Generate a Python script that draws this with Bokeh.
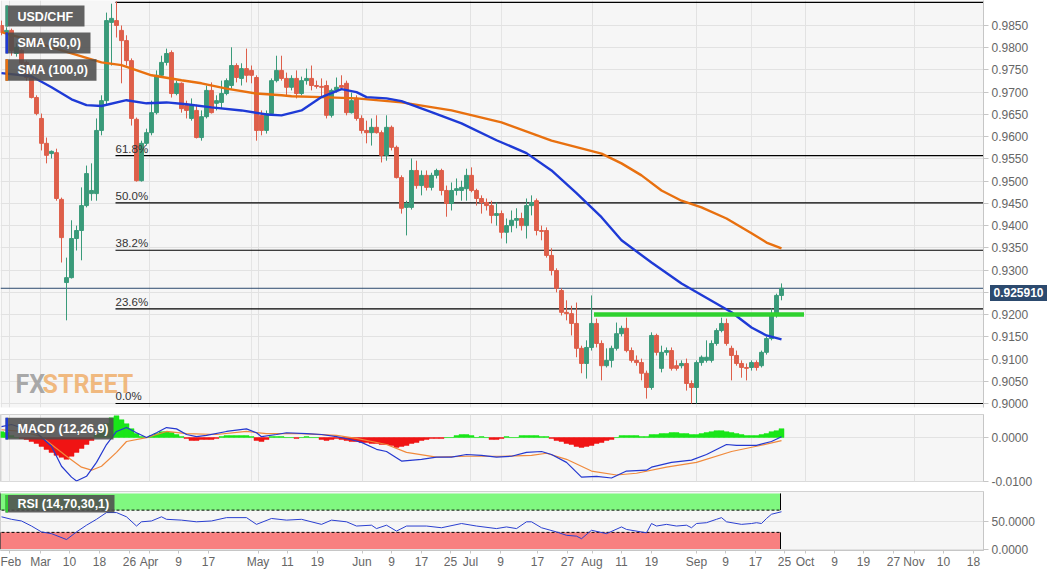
from bokeh.plotting import figure
from bokeh.layouts import column
from bokeh.models import (Range1d, FixedTicker, CustomJSTickFormatter, NumeralTickFormatter,
                          BoxAnnotation, Label, Grid, ColumnDataSource, Div)
from bokeh.embed import file_html
from bokeh.resources import INLINE

# ---------------- data (daily USD/CHF candles) ----------------
opens = [
    0.9850, 0.9834, 0.9839, 0.9787, 0.9794, 0.9767, 0.9733, 0.9688, 0.9641, 0.9585,
    0.9562, 0.9564, 0.9459, 0.9272, 0.9283, 0.9371, 0.9389, 0.9445, 0.9472, 0.9472,
    0.9614, 0.9681, 0.9857, 0.9861, 0.9839, 0.9816, 0.9771, 0.9639, 0.9501, 0.9585,
    0.9609, 0.9654, 0.9738, 0.9767, 0.9789, 0.9697, 0.9720, 0.9670, 0.9641, 0.9659,
    0.9598, 0.9645, 0.9704, 0.9675, 0.9677, 0.9697, 0.9715, 0.9760, 0.9731, 0.9753,
    0.9749, 0.9733, 0.9648, 0.9614, 0.9652, 0.9726, 0.9749, 0.9731, 0.9711, 0.9731,
    0.9697, 0.9726, 0.9731, 0.9715, 0.9713, 0.9715, 0.9648, 0.9704, 0.9715, 0.9720,
    0.9654, 0.9686, 0.9641, 0.9614, 0.9609, 0.9621, 0.9609, 0.9558, 0.9621, 0.9576,
    0.9508, 0.9441, 0.9441, 0.9524, 0.9490, 0.9513, 0.9486, 0.9513, 0.9524, 0.9479,
    0.9450, 0.9479, 0.9479, 0.9483, 0.9513, 0.9479, 0.9461, 0.9452, 0.9445, 0.9423,
    0.9427, 0.9385, 0.9400, 0.9412, 0.9416, 0.9400, 0.9445, 0.9456, 0.9389, 0.9389,
    0.9333, 0.9299, 0.9254, 0.9205, 0.9202, 0.9180, 0.9124, 0.9090, 0.9126, 0.9180,
    0.9135, 0.9085, 0.9097, 0.9124, 0.9157, 0.9169, 0.9119, 0.9097, 0.9092, 0.9068,
    0.9036, 0.9153, 0.9079, 0.9115, 0.9119, 0.9085, 0.9085, 0.9090, 0.9045, 0.9036,
    0.9092, 0.9097, 0.9097, 0.9135, 0.9164, 0.9180, 0.9124, 0.9108, 0.9090, 0.9081,
    0.9081, 0.9092, 0.9085, 0.9115, 0.9146, 0.9202, 0.9243]
highs = [
    0.9861, 0.9846, 0.9843, 0.9810, 0.9798, 0.9771, 0.9738, 0.9693, 0.9652, 0.9598,
    0.9569, 0.9573, 0.9463, 0.9328, 0.9412, 0.9400, 0.9486, 0.9535, 0.9540, 0.9641,
    0.9693, 0.9879, 0.9899, 0.9904, 0.9850, 0.9828, 0.9776, 0.9643, 0.9591, 0.9618,
    0.9681, 0.9749, 0.9782, 0.9798, 0.9794, 0.9726, 0.9722, 0.9681, 0.9686, 0.9672,
    0.9659, 0.9715, 0.9722, 0.9693, 0.9726, 0.9731, 0.9801, 0.9765, 0.9765, 0.9798,
    0.9760, 0.9738, 0.9659, 0.9659, 0.9731, 0.9782, 0.9782, 0.9744, 0.9738, 0.9749,
    0.9735, 0.9753, 0.9760, 0.9726, 0.9731, 0.9726, 0.9708, 0.9733, 0.9738, 0.9726,
    0.9699, 0.9693, 0.9648, 0.9636, 0.9641, 0.9648, 0.9614, 0.9648, 0.9625, 0.9580,
    0.9513, 0.9456, 0.9551, 0.9546, 0.9524, 0.9524, 0.9519, 0.9528, 0.9528, 0.9490,
    0.9497, 0.9506, 0.9501, 0.9528, 0.9531, 0.9483, 0.9468, 0.9461, 0.9456, 0.9452,
    0.9434, 0.9416, 0.9434, 0.9439, 0.9429, 0.9461, 0.9468, 0.9461, 0.9400, 0.9396,
    0.9349, 0.9304, 0.9259, 0.9232, 0.9220, 0.9227, 0.9130, 0.9142, 0.9243, 0.9191,
    0.9142, 0.9124, 0.9130, 0.9182, 0.9175, 0.9193, 0.9126, 0.9108, 0.9101, 0.9074,
    0.9160, 0.9157, 0.9130, 0.9126, 0.9126, 0.9097, 0.9097, 0.9101, 0.9052, 0.9097,
    0.9108, 0.9142, 0.9142, 0.9169, 0.9193, 0.9191, 0.9130, 0.9119, 0.9097, 0.9090,
    0.9097, 0.9097, 0.9119, 0.9151, 0.9214, 0.9247, 0.9270]
lows = [
    0.9828, 0.9825, 0.9782, 0.9780, 0.9758, 0.9726, 0.9686, 0.9648, 0.9569, 0.9540,
    0.9551, 0.9456, 0.9317, 0.9187, 0.9281, 0.9344, 0.9322, 0.9441, 0.9456, 0.9456,
    0.9603, 0.9670, 0.9760, 0.9823, 0.9720, 0.9760, 0.9625, 0.9499, 0.9499, 0.9580,
    0.9603, 0.9650, 0.9733, 0.9760, 0.9688, 0.9693, 0.9654, 0.9641, 0.9636, 0.9596,
    0.9591, 0.9641, 0.9652, 0.9659, 0.9663, 0.9693, 0.9708, 0.9722, 0.9715, 0.9722,
    0.9720, 0.9591, 0.9603, 0.9607, 0.9648, 0.9722, 0.9726, 0.9693, 0.9704, 0.9686,
    0.9693, 0.9717, 0.9704, 0.9708, 0.9688, 0.9641, 0.9643, 0.9699, 0.9708, 0.9648,
    0.9652, 0.9636, 0.9607, 0.9585, 0.9580, 0.9607, 0.9542, 0.9546, 0.9569, 0.9506,
    0.9427, 0.9378, 0.9436, 0.9483, 0.9468, 0.9479, 0.9479, 0.9506, 0.9468, 0.9420,
    0.9434, 0.9468, 0.9456, 0.9456, 0.9475, 0.9445, 0.9427, 0.9434, 0.9405, 0.9400,
    0.9371, 0.9360, 0.9385, 0.9394, 0.9389, 0.9371, 0.9423, 0.9378, 0.9367, 0.9328,
    0.9288, 0.9250, 0.9198, 0.9187, 0.9153, 0.9104, 0.9068, 0.9056, 0.9119, 0.9126,
    0.9052, 0.9081, 0.9081, 0.9119, 0.9151, 0.9115, 0.9092, 0.9085, 0.9052, 0.9011,
    0.9031, 0.9108, 0.9070, 0.9108, 0.9074, 0.9074, 0.9079, 0.9029, 0.9000, 0.9000,
    0.9085, 0.9092, 0.9092, 0.9130, 0.9160, 0.9130, 0.9052, 0.9085, 0.9058, 0.9052,
    0.9074, 0.9074, 0.9081, 0.9110, 0.9142, 0.9193, 0.9232]
closes = [
    0.9834, 0.9839, 0.9794, 0.9801, 0.9765, 0.9733, 0.9688, 0.9652, 0.9585, 0.9558,
    0.9567, 0.9461, 0.9373, 0.9283, 0.9371, 0.9389, 0.9445, 0.9517, 0.9479, 0.9614,
    0.9681, 0.9861, 0.9866, 0.9850, 0.9816, 0.9771, 0.9641, 0.9501, 0.9585, 0.9609,
    0.9654, 0.9738, 0.9767, 0.9787, 0.9697, 0.9720, 0.9663, 0.9659, 0.9670, 0.9598,
    0.9645, 0.9704, 0.9654, 0.9681, 0.9697, 0.9726, 0.9760, 0.9733, 0.9753, 0.9738,
    0.9738, 0.9614, 0.9614, 0.9652, 0.9726, 0.9749, 0.9731, 0.9711, 0.9731, 0.9697,
    0.9726, 0.9731, 0.9715, 0.9713, 0.9711, 0.9648, 0.9704, 0.9711, 0.9711, 0.9654,
    0.9681, 0.9641, 0.9614, 0.9609, 0.9621, 0.9609, 0.9558, 0.9621, 0.9576, 0.9508,
    0.9439, 0.9450, 0.9524, 0.9490, 0.9513, 0.9486, 0.9513, 0.9524, 0.9479, 0.9450,
    0.9479, 0.9483, 0.9486, 0.9513, 0.9479, 0.9461, 0.9452, 0.9445, 0.9423, 0.9427,
    0.9385, 0.9400, 0.9412, 0.9416, 0.9400, 0.9445, 0.9452, 0.9389, 0.9387, 0.9333,
    0.9299, 0.9259, 0.9205, 0.9202, 0.9180, 0.9124, 0.9090, 0.9126, 0.9180, 0.9135,
    0.9085, 0.9097, 0.9124, 0.9157, 0.9169, 0.9119, 0.9097, 0.9092, 0.9068, 0.9036,
    0.9153, 0.9115, 0.9115, 0.9119, 0.9079, 0.9079, 0.9090, 0.9045, 0.9036, 0.9092,
    0.9104, 0.9104, 0.9135, 0.9164, 0.9180, 0.9135, 0.9108, 0.9090, 0.9081, 0.9079,
    0.9092, 0.9081, 0.9115, 0.9146, 0.9202, 0.9243, 0.92591]

sma50_idx = [0, 6, 10, 14, 17, 20, 25, 29, 33, 37, 42, 48, 53, 56, 60, 64, 68, 71, 73, 77,
             80, 86, 92, 99, 105, 110, 115, 120, 124, 130, 136, 140, 146, 150, 153, 156]
sma50_val = [0.9743, 0.9736, 0.9711, 0.9684, 0.9671, 0.9669, 0.9682, 0.9675, 0.9677, 0.9673,
             0.9666, 0.9659, 0.9650, 0.9648, 0.9659, 0.9689, 0.9707, 0.9700, 0.9689, 0.9686,
             0.9680, 0.9655, 0.9630, 0.9592, 0.9563, 0.9524, 0.9473, 0.9419, 0.9367, 0.9317,
             0.9270, 0.9244, 0.9205, 0.9171, 0.9153, 0.9144]
sma100_idx = [0, 4, 10, 20, 24, 30, 36, 40, 45, 51, 56, 58, 64, 71, 80, 90, 100, 110,
              120, 124, 128, 132, 136, 140, 145, 150, 153, 156]
sma100_val = [0.9835, 0.9822, 0.9801, 0.9767, 0.9761, 0.9738, 0.9727, 0.9720, 0.9708, 0.9697,
              0.9693, 0.9691, 0.9689, 0.9686, 0.9677, 0.9659, 0.9632, 0.9591, 0.9562, 0.9540,
              0.9513, 0.9479, 0.9456, 0.9441, 0.9416, 0.9383, 0.9362, 0.9349]

fib_low = 0.9000
fib_high = 0.9902
fib_ratios = [0.0, 0.236, 0.382, 0.5, 0.618, 1.0]
fib_anchor = 22.8          # bar of the swing high the retracement is drawn from
resistance_level = 0.9200
resistance_from = 118.5
resistance_to = 160.5
last_price = 0.92591
last_price_text = "0.925910"

macd_idx = [0, 2, 7, 10, 12, 14, 15, 17, 19, 21, 23, 25, 27, 29, 31, 33, 35, 37, 39, 41,
            45, 49, 51, 52, 55, 57, 61, 64, 67, 70, 72, 75, 77, 80, 84, 87, 90, 93, 96, 99,
            102, 105, 108, 110, 113, 116, 119, 122, 125, 129, 130, 134, 138, 141, 145, 147,
            151, 154, 156]
macd_val = [0.0025, 0.0030, 0.0011, -0.0020, -0.0066, -0.0091, -0.0100, -0.0089, -0.0057, -0.0016,
            0.0014, 0.0023, 0.0011, 0.0000, 0.0011, 0.0023, 0.0020, 0.0007, 0.0002, 0.0005,
            0.0014, 0.0020, 0.0011, 0.0002, 0.0007, 0.0011, 0.0009, 0.0007, 0.0002, -0.0005,
            -0.0011, -0.0027, -0.0032, -0.0054, -0.0050, -0.0045, -0.0045, -0.0039, -0.0041, -0.0045,
            -0.0043, -0.0034, -0.0032, -0.0039, -0.0057, -0.0091, -0.0089, -0.0093, -0.0077, -0.0075,
            -0.0068, -0.0057, -0.0052, -0.0039, -0.0016, -0.0018, -0.0018, -0.0009, 0.0002]
signal_idx = [0, 4, 8, 13, 16, 18, 20, 23, 25, 29, 33, 37, 43, 49, 53, 60, 67, 71, 77, 81,
              87, 93, 100, 106, 109, 113, 118, 123, 127, 133, 139, 146, 151, 156]
signal_val = [0.0018, 0.0014, 0.0002, -0.0043, -0.0068, -0.0075, -0.0066, -0.0034, -0.0009, 0.0000,
              0.0014, 0.0009, 0.0007, 0.0014, 0.0009, 0.0009, 0.0005, -0.0002, -0.0016, -0.0034,
              -0.0045, -0.0043, -0.0043, -0.0041, -0.0036, -0.0050, -0.0077, -0.0086, -0.0082, -0.0068,
              -0.0057, -0.0032, -0.0020, -0.0007]
macd_hist = [
    0.00136, 0.00114, 0.00045, 0.0, -0.00023, -0.00045, -0.00091, -0.00136, -0.00204, -0.00272,
    -0.00341, -0.00409, -0.00454, -0.00499, -0.00431, -0.00341, -0.0025, -0.00159, -0.00068, 0.00068,
    0.00182, 0.00318, 0.00454, 0.00499, 0.00409, 0.00318, 0.00204, 0.00091, 0.00023, 0.0,
    0.00045, 0.00091, 0.00136, 0.00136, 0.00114, 0.00068, 0.00023, -0.00023, -0.00068, -0.00068,
    -0.00045, -0.00045, -0.00045, -0.00023, 0.00023, 0.00045, 0.00045, 0.00045, 0.00045, 0.00045,
    0.00023, -0.00068, -0.00091, -0.00045, 0.00023, 0.00023, 0.00023, 0.0, 0.0, -0.00023,
    0.0, 0.00023, 0.0, 0.0, -0.00045, -0.00068, -0.00045, -0.00023, -0.00045, -0.00068,
    -0.00091, -0.00091, -0.00114, -0.00114, -0.00136, -0.00136, -0.00159, -0.00159, -0.00182, -0.00227,
    -0.00204, -0.00182, -0.00136, -0.00114, -0.00068, -0.00045, -0.00023, -0.00023, -0.00023, 0.0,
    0.0, 0.00045, 0.00068, 0.00068, 0.00045, 0.0, 0.00023, 0.0, -0.00045, -0.00045,
    -0.00023, 0.00023, 0.0, 0.0, 0.00045, 0.00045, 0.00045, 0.00045, 0.00023, 0.00023,
    -0.00023, -0.00068, -0.00091, -0.00136, -0.00159, -0.00204, -0.00227, -0.00204, -0.00182, -0.00136,
    -0.00114, -0.00068, -0.00045, 0.0, 0.00045, 0.00045, 0.00045, 0.00045, 0.00023, 0.00023,
    0.00068, 0.00068, 0.00091, 0.00091, 0.00114, 0.00114, 0.00091, 0.00091, 0.00068, 0.00068,
    0.00091, 0.00114, 0.00136, 0.00159, 0.00159, 0.00136, 0.00114, 0.00091, 0.00068, 0.00045,
    0.00045, 0.00045, 0.00068, 0.00091, 0.00136, 0.00159, 0.00204]

rsi_idx = [0, 2, 4, 6, 8, 10, 13, 15, 17, 19, 21, 23, 25, 27, 28, 30, 32, 33, 36, 39,
           42, 45, 49, 51, 54, 57, 60, 64, 66, 69, 71, 74, 75, 77, 79, 81, 85, 88, 92, 95,
           99, 101, 103, 105, 106, 108, 111, 113, 115, 116, 118, 121, 124, 125, 129, 130, 131, 133, 135, 137,
           138, 139, 141, 143, 144, 145, 148, 150, 151, 152, 153, 154, 156]
rsi_val = [58, 53.5, 50.5, 41.4, 30.8, 27.7, 17.1, 30.8, 42.9, 53.5,
           65.6, 65.6, 58, 41.4, 49, 50.5, 58, 53.5, 52, 49,
           50.5, 56.5, 56.5, 44.4, 55, 52, 53.5, 44.4, 52, 49,
           41.4, 42.9, 36.8, 42.9, 32.3, 41.4, 41.4, 38.3, 45.9, 41.4,
           36.8, 39.8, 36.8, 49, 49, 38.3, 30.8, 24.7, 23.2, 18.6,
           33.8, 27.7, 39.8, 35.3, 29.2, 45.9, 41.4, 44.4, 41.4, 42.9,
           38.3, 45.9, 47.4, 53.5, 56.5, 49, 44.4, 45.9, 47.4, 45.9,
           55, 62.6, 67.1]
rsi_overbought = 70
rsi_oversold = 30

xtick_pos = [1.6, 7.8, 13.6, 19.6, 25.6, 29.5, 35.4, 41.4, 51.3, 57.2, 63.2, 72.1, 78.0, 84.0,
             89.8, 93.8, 99.8, 107.2, 113.2, 118.1, 124.0, 130.0, 139.0, 144.8, 150.8, 156.6,
             160.7, 166.6, 172.4, 178.4, 182.5, 188.4, 194.4]
xtick_labels = ["Feb", "Mar", "10", "18", "26", "Apr", "9", "17", "May", "11", "19", "Jun", "9",
                "17", "25", "Jul", "9", "17", "27", "Aug", "11", "19", "Sep", "9", "17", "25",
                "Oct", "9", "19", "27", "Nov", "10", "18"]
price_ticks = [0.9000, 0.9050, 0.9100, 0.9150, 0.9200, 0.9250, 0.9300, 0.9350, 0.9400,
               0.9450, 0.9500, 0.9550, 0.9600, 0.9650, 0.9700, 0.9750, 0.9800, 0.9850]
macd_ticks = [-0.0100, 0.0000]
rsi_ticks = [0, 50]

# ---------------- styling ----------------
FONT = "Liberation Sans"
GREEN = "#3a9b7a"
RED = "#de5f4a"
FRAME_BG = "#f6f6f6"
GRID = "#e2e2e2"
AXIS = "#c6c6c6"
TICK_TXT = "#666666"
BOX = "#4d4d4d"
NAVY = "#2c4a6e"

X0, X1 = -0.2, 196.4          # bar window of the plot areas (983 px, 5 px per bar)
PRICE_LO, PRICE_HI = 0.89910, 0.99062

bars = list(range(len(closes)))
month_ticks = [p for p, l in zip(xtick_pos, xtick_labels) if not l.isdigit()]
xr = Range1d(X0, X1)


def style(p, yticks, fmt):
    p.background_fill_color = FRAME_BG
    p.border_fill_color = "white"
    p.outline_line_color = "#d2d2d2"
    ax = p.yaxis[0]
    ax.ticker = FixedTicker(ticks=yticks)
    ax.formatter = NumeralTickFormatter(format=fmt)
    ax.major_label_text_font = FONT
    ax.major_label_text_font_size = "12px"
    ax.major_label_text_color = TICK_TXT
    ax.axis_line_color = AXIS
    ax.major_tick_line_color = AXIS
    ax.major_tick_out = 5
    ax.major_tick_in = 0
    ax.minor_tick_line_color = None
    ax.major_label_standoff = 3
    p.ygrid.ticker = FixedTicker(ticks=yticks)
    p.ygrid.grid_line_color = GRID
    p.add_layout(Grid(dimension=0, ticker=FixedTicker(ticks=month_ticks), grid_line_color=GRID))


def tag(p, left, right, bottom, top, tx, ty, text, marker):
    p.add_layout(BoxAnnotation(left=left, right=right, bottom=bottom, top=top,
                               fill_color=BOX, fill_alpha=0.88, line_alpha=0))
    p.add_layout(BoxAnnotation(left=left, right=left + 0.5, bottom=bottom, top=top,
                               fill_color=marker, fill_alpha=1.0, line_alpha=0))
    p.add_layout(Label(x=tx, y=ty, text=text, text_font=FONT, text_font_size="12.5px",
                       text_font_style="bold", text_color="white", text_baseline="middle"))


common = dict(x_range=xr, output_backend="svg", toolbar_location=None, y_axis_location="right",
              min_border_left=0, min_border_right=61, width=1044)

# ---------------- main price panel ----------------
p1 = figure(height=410, y_range=Range1d(PRICE_LO, PRICE_HI), x_axis_location=None,
            min_border_top=0, min_border_bottom=3, **common)
style(p1, price_ticks, "0.0000")
p1.outline_line_color = None

for r in fib_ratios:
    lvl = fib_low + r * (fib_high - fib_low)
    p1.segment(x0=fib_anchor, y0=lvl, x1=X1, y1=lvl, line_color="black", line_width=1.2)
    if r < 1.0:
        p1.add_layout(Label(x=fib_anchor, y=lvl, y_offset=1, text=f"{r * 100:.1f}%",
                            text_font=FONT, text_font_size="11.5px", text_color="#333333",
                            text_baseline="bottom"))

p1.segment(x0=X0, y0=last_price, x1=X1, y1=last_price, line_color=NAVY, line_width=1)

colors = [GREEN if c >= o else RED for o, c in zip(opens, closes)]
src = ColumnDataSource(dict(x=bars, high=highs, low=lows, color=colors,
                            top=[max(o, c) for o, c in zip(opens, closes)],
                            bottom=[min(o, c) for o, c in zip(opens, closes)]))
p1.segment(x0="x", y0="high", x1="x", y1="low", line_color="color", line_width=1, source=src)
p1.vbar(x="x", top="top", bottom="bottom", width=0.78, fill_color="color",
        line_color="color", line_width=1, source=src)

p1.line(sma100_idx, sma100_val, line_color="#e8700f", line_width=2.4)
p1.line(sma50_idx, sma50_val, line_color="#1e3ad6", line_width=2.4)
p1.segment(x0=resistance_from, y0=resistance_level, x1=resistance_to, y1=resistance_level,
           line_color="#2fd12f", line_width=4.5)

p1.add_layout(Label(x=2.8, y=0.9043, text="FX", text_font="Roboto",
                    text_font_size="25px", text_font_style="bold", text_color="#9a9a9a",
                    text_alpha=0.85, text_baseline="alphabetic"))
p1.add_layout(Label(x=8.2, y=0.9043, text="STREET", text_font="Roboto",
                    text_font_size="25px", text_font_style="bold", text_color="#efae6a",
                    text_alpha=0.85, text_baseline="alphabetic"))

tag(p1, 0.8, 16.6, 0.9848, 0.9895, 3.2, 0.9870, "USD/CHF", GREEN)
tag(p1, 0.8, 17.8, 0.9787, 0.9834, 3.2, 0.9810, "SMA (50,0)", "#1e3ad6")
tag(p1, 0.8, 19.0, 0.9726, 0.9774, 3.2, 0.9749, "SMA (100,0)", "#e8700f")

# last-price tag sitting on the price axis (an overlay placed next to the axis)
price_tag = Div(text=last_price_text, width=57, height=16,
                styles={"position": "absolute", "left": "985px", "top": "280px",
                        "background-color": NAVY, "color": "white",
                        "font-family": FONT, "font-weight": "bold", "font-size": "12px",
                        "line-height": "16px", "text-align": "center", "z-index": "10"})

# ---------------- MACD panel ----------------
p2 = figure(height=78, y_range=Range1d(-0.0101, 0.0053), x_axis_location=None,
            min_border_top=4, min_border_bottom=7, **common)
style(p2, macd_ticks, "0.0000")
hsrc = ColumnDataSource(dict(x=bars, top=macd_hist,
                             color=["#19e619" if h >= 0 else "#f01414" for h in macd_hist]))
p2.vbar(x="x", top="top", bottom=0, width=1.0, fill_color="color", line_color="color",
        line_width=0.5, source=hsrc)
p2.line(signal_idx, signal_val, line_color="#f08a3c", line_width=1.2)
p2.line(macd_idx, macd_val, line_color="#2438d0", line_width=1.2)
tag(p2, 0.8, 22.4, -0.00045, 0.00454, 3.2, 0.00204, "MACD (12,26,9)", "#1e3ad6")

# ---------------- RSI panel ----------------
p3 = figure(height=83, y_range=Range1d(-2.6, 103.5), min_border_top=3, min_border_bottom=0,
            **common)
style(p3, rsi_ticks, "0.0000")
p3.xgrid.visible = False
band_right = bars[-1] - 0.2
p3.quad(left=-2, right=band_right, bottom=rsi_overbought, top=100, fill_color="#80f880",
        line_color=None)
p3.quad(left=-2, right=band_right, bottom=0, top=rsi_oversold, fill_color="#f88080",
        line_color=None)
for lvl in (rsi_overbought, rsi_oversold):
    p3.segment(x0=-2, y0=lvl, x1=band_right, y1=lvl, line_color="black", line_width=1,
               line_dash="3 2")
for x_edge in (X0, band_right):
    p3.segment(x0=x_edge, y0=rsi_overbought, x1=x_edge, y1=100, line_color="black", line_width=1)
    p3.segment(x0=x_edge, y0=0, x1=x_edge, y1=rsi_oversold, line_color="black", line_width=1)
p3.line(rsi_idx, rsi_val, line_color="#2a3fd0", line_width=1)
tag(p3, 0.8, 22.6, 65.6, 97.0, 3.2, 81.0, "RSI (14,70,30,1)", "#33cc33")

xa = p3.xaxis[0]
xa.ticker = FixedTicker(ticks=xtick_pos)
xa.formatter = CustomJSTickFormatter(args=dict(pos=xtick_pos, lab=xtick_labels), code="""
    let k = 0, d = 1e9;
    for (let j = 0; j < pos.length; j++) {
        const e = Math.abs(pos[j] - tick);
        if (e < d) { d = e; k = j; }
    }
    return lab[k];
""")
xa.major_label_text_font = FONT
xa.major_label_text_font_size = "12px"
xa.major_label_text_color = TICK_TXT
xa.axis_line_color = AXIS
xa.major_tick_line_color = AXIS
xa.major_tick_out = 3
xa.major_tick_in = 0
xa.minor_tick_line_color = None
xa.major_label_standoff = 1

layout = column(p1, p2, p3, price_tag, spacing=0, styles={"position": "relative"})
open("out.html", "w").write(file_html(layout, INLINE))
